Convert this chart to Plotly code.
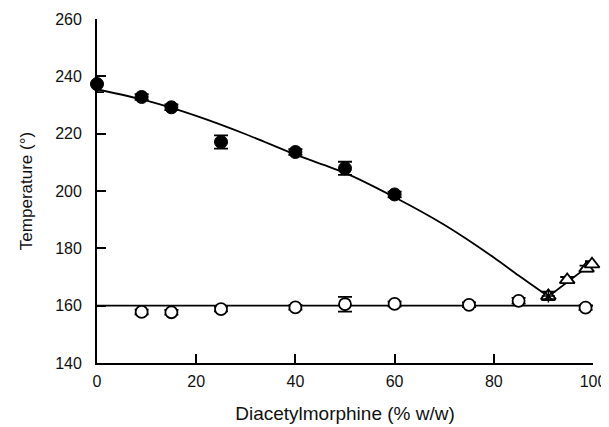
import plotly.graph_objects as go

# Filled circles (upper branch)
fc_x = [0, 9, 15, 25, 40, 50, 60]
fc_y = [237.3, 232.8, 229.2, 217.1, 213.6, 207.9, 198.8]
fc_err = [2.8, 1.0, 1.0, 2.3, 1.0, 2.3, 1.0]

# Open circles (lower branch)
oc_x = [9, 15, 25, 40, 50, 60, 75, 85, 98.5]
oc_y = [157.8, 157.7, 158.8, 159.4, 160.5, 160.6, 160.3, 161.7, 159.3]
oc_err = [0.8, 0.8, 0.8, 0.8, 2.6, 0.8, 0.8, 1.0, 0.8]

# Open triangles
tr_x = [91, 94.8, 98.7, 99.8]
tr_y = [163.4, 169.0, 173.0, 174.5]
tr_err = [1.5, 1.0, 1.0, 1.0]

# Fitted curve
fit_x = [0, 10, 20, 30, 40, 50, 60, 70, 80, 85, 91]
fit_y = [235.5, 231.5, 226.2, 219.8, 212.7, 206.3, 197.8, 188.2, 176.8, 170.5, 163.2]

# Horizontal line (lower branch)
hl_x = [0, 100]
hl_y = [160, 160]

# Right branch line
rb_x = [91, 100]
rb_y = [163.2, 175]

x_ticks = [0, 20, 40, 60, 80, 100]
y_ticks = [140, 160, 180, 200, 220, 240, 260]

fig = go.Figure()

fig.add_trace(go.Scatter(x=fit_x, y=fit_y, mode="lines", line=dict(color="black", width=1.8, shape="spline", smoothing=0.8), hoverinfo="skip"))
fig.add_trace(go.Scatter(x=hl_x, y=hl_y, mode="lines", line=dict(color="black", width=1.8), hoverinfo="skip"))
fig.add_trace(go.Scatter(x=rb_x, y=rb_y, mode="lines", line=dict(color="black", width=1.8), hoverinfo="skip"))

err_style = dict(type="data", visible=True, color="black", thickness=1.8, width=7)

fig.add_trace(go.Scatter(x=oc_x, y=oc_y, mode="markers", cliponaxis=False,
                         marker=dict(symbol="circle", size=12, color="white", line=dict(color="black", width=1.8)),
                         error_y=dict(array=oc_err, **err_style)))
fig.add_trace(go.Scatter(x=tr_x, y=tr_y, mode="markers", cliponaxis=False,
                         marker=dict(symbol="triangle-up", size=13, color="white", line=dict(color="black", width=1.8)),
                         error_y=dict(array=tr_err, **err_style)))
fig.add_trace(go.Scatter(x=[tr_x[0]], y=[tr_y[0]], mode="markers", cliponaxis=False,
                         marker=dict(symbol="asterisk-open", size=11, color="black", line=dict(color="black", width=1.5))))
fig.add_trace(go.Scatter(x=fc_x, y=fc_y, mode="markers", cliponaxis=False,
                         marker=dict(symbol="circle", size=13, color="black", line=dict(color="black", width=1)),
                         error_y=dict(array=fc_err, **err_style)))

font_family = "Liberation Sans, Arial, Helvetica, sans-serif"

fig.update_layout(
    width=609, height=427,
    margin=dict(l=89, r=24, t=11, b=72),
    plot_bgcolor="white", paper_bgcolor="white",
    showlegend=False,
    font=dict(family=font_family, size=16, color="#111"),
)
fig.update_xaxes(
    range=[0, 100], tickvals=x_ticks, ticks="inside", ticklen=9, tickwidth=1.8, tickcolor="black",
    showline=True, linecolor="black", linewidth=1.8, showgrid=False, zeroline=False,
    title=dict(text="Diacetylmorphine (% w/w)", font=dict(size=19, family=font_family), standoff=18),
    tickfont=dict(size=16, family=font_family),
    ticklabelstandoff=3, automargin=False,
)
fig.update_yaxes(
    range=[140, 260], tickvals=y_ticks, ticks="inside", ticklen=9, tickwidth=1.8, tickcolor="black",
    showline=True, linecolor="black", linewidth=1.8, showgrid=False, zeroline=False,
    title=dict(text="Temperature (°)", font=dict(size=17, family=font_family), standoff=18),
    tickfont=dict(size=16, family=font_family),
    ticklabelstandoff=10, automargin=False,
)

fig.write_html("out.html")
